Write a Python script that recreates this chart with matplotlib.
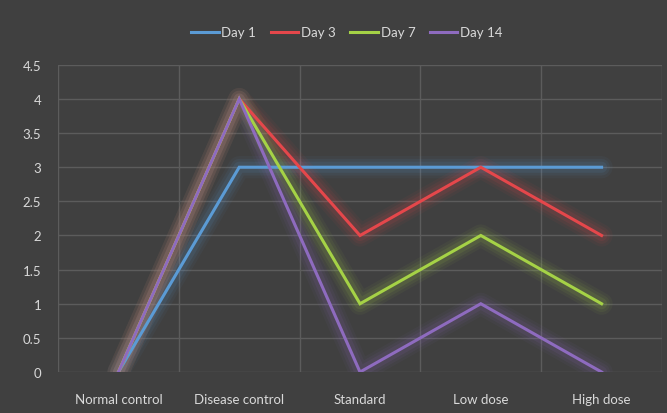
import matplotlib.pyplot as plt
import numpy as np

categories = ["Normal control", "Disease control", "Standard", "Low dose", "High dose"]
series_names = ["Day 1", "Day 3", "Day 7", "Day 14"]
day1 = [0, 3, 3, 3, 3]
day3 = [0, 4, 2, 3, 2]
day7 = [0, 4, 1, 2, 1]
day14 = [0, 4, 0, 1, 0]
y_ticks = [0, 0.5, 1, 1.5, 2, 2.5, 3, 3.5, 4, 4.5]

colors = ["#5b9bd5", "#e5474b", "#a5d246", "#8e6bbf"]
bg = "#404040"
text_color = "#d9d9d9"
grid_color = "#5c5c5c"

plt.rcParams["font.family"] = ["Lato", "DejaVu Sans"]

fig = plt.figure(figsize=(6.67, 4.14), dpi=100, facecolor=bg)
ax = fig.add_axes([0.087, 0.099, 0.9055, 0.742], facecolor=bg)

x = np.arange(len(categories))
all_series = [day1, day3, day7, day14]

# soft glow under each line
for vals, c in zip(all_series, colors):
    for w, a in [(16, 0.05), (12, 0.07), (8, 0.1)]:
        ax.plot(x, vals, color=c, lw=w, alpha=a, solid_capstyle="round",
                solid_joinstyle="round")

lines = []
for name, vals, c in zip(series_names, all_series, colors):
    ln, = ax.plot(x, vals, color=c, lw=2.2, label=name, solid_joinstyle="miter")
    lines.append(ln)

ax.set_xlim(-0.5, len(categories) - 0.5)
ax.set_ylim(0, 4.5)
ax.set_yticks(y_ticks)
ax.set_yticklabels([f"{t:g}" for t in y_ticks])
ax.set_xticks(x)
ax.set_xticklabels(categories)

ax.set_xticks(np.arange(-0.5, len(categories)), minor=True)
ax.grid(True, axis="y", color=grid_color, lw=1)
ax.grid(True, axis="x", which="minor", color=grid_color, lw=1)
ax.set_axisbelow(True)

for s in ax.spines.values():
    s.set_visible(False)
ax.tick_params(axis="both", which="both", length=0, colors=text_color, labelsize=9.5)
ax.tick_params(axis="y", pad=12)
ax.tick_params(axis="x", pad=15)

fig.legend(handles=lines, loc="center", bbox_to_anchor=(0.52, 0.92), ncol=4,
           frameon=False, fontsize=9.5, labelcolor=text_color, handlelength=2.1,
           handletextpad=0.2, columnspacing=1.1)

fig.savefig("out.png", dpi=100, facecolor=bg)
